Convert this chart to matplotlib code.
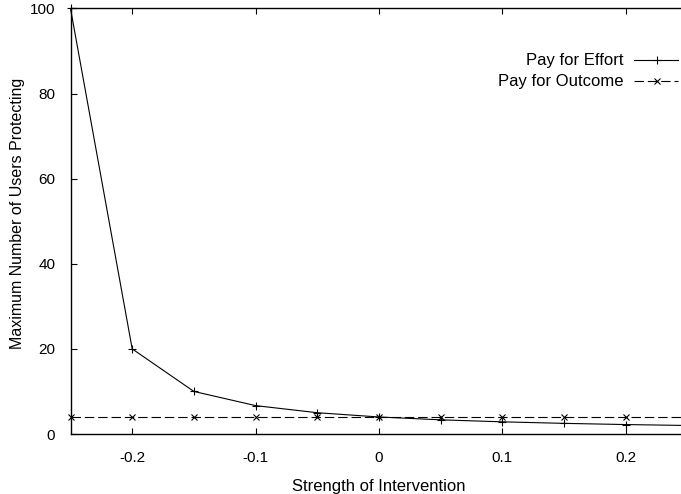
import matplotlib
matplotlib.use("Agg")
import matplotlib.pyplot as plt
from matplotlib.lines import Line2D

plt.rcParams['font.family'] = ['Liberation Sans', 'DejaVu Sans']

strength = [-0.25, -0.2, -0.15, -0.1, -0.05, 0.0, 0.05, 0.1, 0.15, 0.2, 0.25]
pay_effort = [100, 20, 10, 6.67, 5.0, 4.0, 3.33, 2.86, 2.5, 2.22, 2.0]
pay_outcome = [4, 4, 4, 4, 4, 4, 4, 4, 4, 4, 4]
xticks = [-0.2, -0.1, 0, 0.1, 0.2]
xticklabels = ["-0.2", "-0.1", "0", "0.1", "0.2"]
yticks = [0, 20, 40, 60, 80, 100]

W, H = 681, 494
fig = plt.figure(figsize=(W / 100, H / 100), dpi=100)
x0, x1, y0, y1 = 70.5, 687.5, 434, 8.5
ax = fig.add_axes([x0 / W, 1 - y0 / H, (x1 - x0) / W, (y0 - y1) / H])

ax.plot(strength, pay_effort, color='black', lw=0.8, marker='+', ms=6, mew=0.8, clip_on=False, zorder=3)
ax.plot(strength, pay_outcome, color='black', lw=0.8, dashes=(8.5, 3.5), marker='x', ms=5, mew=0.8,
        clip_on=False, zorder=2)

ax.set_xlim(-0.25, 0.25)
ax.set_ylim(0, 100)
ax.set_xticks(xticks)
ax.set_xticklabels(xticklabels)
ax.set_yticks(yticks)
ax.tick_params(direction='in', length=4, width=0.8, top=True, right=True, labelsize=11)
ax.tick_params(axis='x', pad=12)
ax.tick_params(axis='y', pad=11)
for s in ax.spines.values():
    s.set_linewidth(1.0)

ax.set_xlabel("Strength of Intervention", fontsize=12, labelpad=10)
ax.set_ylabel("Maximum Number of Users Protecting", fontsize=11.5)
ax.yaxis.set_label_coords(25 / W, 1 - 213 / H, transform=fig.transFigure)

# manual legend (text right-aligned, sample on the right)
def px(x, y):
    return x / W, 1 - y / H

tx, lx0, lx1, lxm = 623, 634, 678, 657
for label, yy, kw in [("Pay for Effort", 60, dict(marker='+', ms=6, mew=0.8)),
                      ("Pay for Outcome", 81, dict(marker='x', ms=4.5, mew=0.8, dashes=(8.5, 3.5)))]:
    fig.text(*px(tx, yy), label, ha='right', va='center', fontsize=12)
    xa, ya = px(lx0, yy)
    xb, _ = px(lx1, yy)
    fig.add_artist(Line2D([xa, xb], [ya, ya], color='black', lw=0.8, transform=fig.transFigure,
                          **{k: v for k, v in kw.items() if k == 'dashes'}))
    xm, _ = px(lxm, yy)
    fig.add_artist(Line2D([xm], [ya], color='black', lw=0, transform=fig.transFigure,
                          **{k: v for k, v in kw.items() if k != 'dashes'}))

fig.savefig("out.png", dpi=100)
